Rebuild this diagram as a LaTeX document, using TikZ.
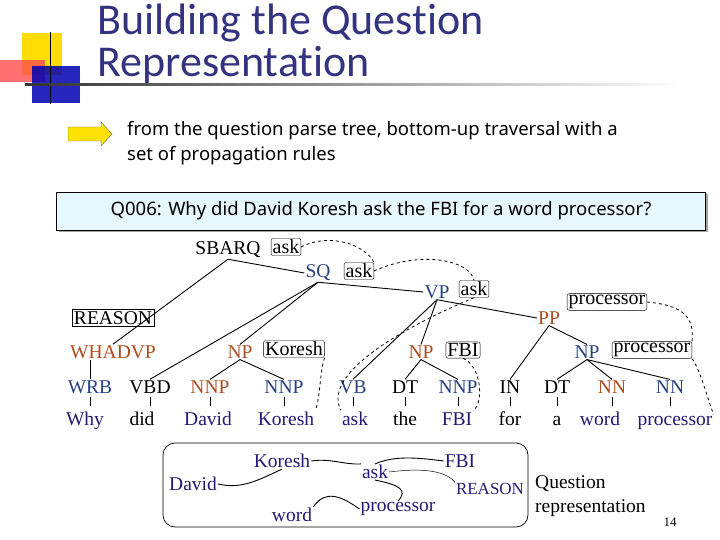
\documentclass[tikz,border=0pt]{standalone}
\usepackage{fontspec}
\setmainfont{Liberation Serif}
\newfontfamily\tsans[Ligatures=NoCommon]{Carlito}
\newfontfamily\csans{Noto Sans}
\usetikzlibrary{shadows}
\definecolor{tblue}{rgb}{0.15,0.25,0.5}
\definecolor{tor}{rgb}{0.68,0.3,0.12}
\definecolor{wnav}{rgb}{0.15,0.1,0.45}
\definecolor{ttl}{rgb}{0.2,0.2,0.5}
\begin{document}
\begin{tikzpicture}[x=1pt,y=-1pt,
 lab/.style={font=\fontsize{19.5}{21}\selectfont,inner sep=1pt},
 hb/.style={draw,rounded corners=2pt,font=\fontsize{20}{21}\selectfont,inner sep=1.5pt},
 wd/.style={font=\fontsize{19.5}{21}\selectfont,inner sep=1pt,text=wnav},
 ed/.style={line width=0.9pt},
 dsh/.style={dashed,line width=0.8pt}]
\useasboundingbox (0,0) rectangle (720,540);
% decoration
\fill[yellow!80!orange] (22,33) rectangle (62,75);
\fill[red!70,opacity=0.8] (0,60) rectangle (45,82);
\fill[blue!70!black,opacity=0.85] (32,66) rectangle (80,103);
\draw[line width=1pt] (50,32) -- (50,104);
\shade[left color=black!80,right color=white] (25,84) rectangle (680,86);
\node[anchor=west,text=ttl,font=\tsans\fontsize{44}{46}\selectfont,inner sep=0] (t1) at (97,23) {Building the Question};
\node[anchor=west,text=ttl,font=\tsans\fontsize{44}{46}\selectfont,inner sep=0] (t2) at (97,65) {Representation};
% arrow
\draw[fill=yellow!85!orange,draw=black!60] (68,127) -- (101,127) -- (101,122) -- (112,134) -- (101,146) -- (101,141) -- (68,141) -- cycle;
\node[anchor=west,font=\csans\fontsize{18.5}{25}\selectfont,align=left,inner sep=0] (intro) at (127,143) {from the question parse tree, bottom-up traversal with a\\set of propagation rules};
% question box
\node[draw,fill=cyan!10,minimum width=649,minimum height=38,drop shadow={shadow xshift=2pt,shadow yshift=-2pt,fill=black!70},font=\csans\fontsize{18.5}{20}\selectfont] (q) at (381,211) {Q006: Why did David Koresh ask the FBI for a word processor?};
% tree nodes
\node[lab] (sbarq) at (228,250) {SBARQ};
\node[lab,text=tblue] (sq) at (318,273) {SQ};
\node[lab,text=tblue] (vp) at (437,292) {VP};
\node[lab,text=tor] (pp) at (549,318) {PP};
\node[lab,text=tor] (whadvp) at (113,352) {WHADVP};
\node[lab,text=tor] (npk) at (240,352) {NP};
\node[lab,text=tor] (npf) at (421,352) {NP};
\node[lab,text=tblue] (npp) at (587,352) {NP};
\node[draw,font=\fontsize{19.5}{21}\selectfont,inner sep=2pt] (reason) at (113,318) {REASON};
\node[hb] (h1) at (286,247) {ask};
\node[hb] (h2) at (359,271) {ask};
\node[hb] (h3) at (474,289) {ask};
\node[hb] (h4) at (607,302) {processor};
\node[hb] (h5) at (294,349) {Koresh};
\node[hb] (h6) at (463,350) {FBI};
\node[hb] (h7) at (652,350) {processor};
% POS
\foreach \n/\x/\t/\c in {p1/90/WRB/tblue,p2/150/VBD/black,p3/210/NNP/tor,p4/284/NNP/tblue,p5/353/VB/tblue,p6/405/DT/black,p7/458/NNP/tblue,p8/510/IN/black,p9/557/DT/black,p10/612/NN/tor,p11/670/NN/tblue}
  \node[lab,text=\c] (\n) at (\x,387) {\t};
\foreach \n/\x/\t/\c in {w1/85/Why/wnav,w2/142/did/black,w3/208/David/wnav,w4/286/Koresh/wnav,w5/355/ask/wnav,w6/405/the/black,w7/457/FBI/wnav,w8/510/for/black,w9/557/a/black,w10/600/word/wnav,w11/675/processor/wnav}
  \node[lab,text=\c,anchor=base] (\n) at (\x,425) {\t};
\foreach \i in {1,...,11} \draw[line width=0.6pt] (p\i.south) ++(0,2) -- ++(0,9);
% edges
\draw[ed] (sbarq.south) -- (sq.west);
\draw[ed] (sbarq.south) -- (whadvp.north);
\draw[ed] (sq.south) -- (vp.west);
\draw[ed] (sq.south) -- (p2.north);
\draw[ed] (sq.south) -- (npk.north);
\draw[ed] (vp.south) -- (p5.north);
\draw[ed] (vp.south) -- (npf.north);
\draw[ed] (vp.south) -- (pp.west);
\draw[ed] (pp.south) -- (p8.north);
\draw[ed] (pp.south) -- (npp.north);
\draw[ed] (npp.south) -- (p9.north);
\draw[ed] (npp.south) -- (p10.north);
\draw[ed] (npp.south) -- (p11.north);
\draw[ed] (npk.south) -- (p3.north);
\draw[ed] (npk.south) -- (p4.north);
\draw[ed] (npf.south) -- (p6.north);
\draw[ed] (npf.south) -- (p7.north);
\draw[line width=0.6pt] (whadvp.south) ++(-23,0) -- (p1.north);
% dashed head links
\draw[dsh] (h1.east) .. controls (330,232) and (365,245) .. (h2.north east);
\draw[dsh] (h2.east) .. controls (420,250) and (470,260) .. (h3.north);
\draw[dsh] (h3.south) .. controls (420,320) and (320,370) .. (w5.north west);
\draw[dsh] (h4.east) .. controls (680,305) and (695,315) .. (h7.north east);
\draw[dsh] (h5.south east) .. controls (320,370) and (320,400) .. (w4.north east);
\draw[dsh] (h6.south) .. controls (480,365) and (485,400) .. (w7.north east);
\draw[dsh] (h7.south east) .. controls (700,370) and (705,390) .. (w11.north east);
% question representation
\draw[rounded corners=12pt,line width=0.7pt] (163,443) rectangle (528,527);
\node[wd] (rk) at (282,461) {Koresh};
\node[wd] (rd) at (193,484) {David};
\node[wd] (ra) at (375,472) {ask};
\node[wd] (rf) at (460,461) {FBI};
\node[wd,font=\fontsize{17}{19}\selectfont] (rr) at (490,489) {REASON};
\node[wd] (rw) at (292,515) {word};
\node[wd] (rp) at (398,509) {processor};
\draw[ed] (rd.east) .. controls (240,489) and (255,482) .. (rk.south);
\draw[ed] (rk.east) .. controls (330,458) and (345,465) .. (ra.north west);
\draw[ed] (ra.north) .. controls (395,455) and (420,458) .. (rf.west);
\draw[line width=0.5pt] (ra.east) .. controls (420,468) and (445,470) .. (rr.north west);
\draw[ed] (ra.south) .. controls (400,485) and (408,490) .. (rp.north);
\draw[ed] (rw.north east) .. controls (325,490) and (340,495) .. (rp.west);
\node[anchor=west,font=\fontsize{19.5}{24}\selectfont,align=left,inner sep=0] (qr) at (535,496) {Question\\representation};
\node[font=\fontsize{13}{14}\selectfont] (pg) at (670,522) {14};
\end{tikzpicture}
\end{document}
